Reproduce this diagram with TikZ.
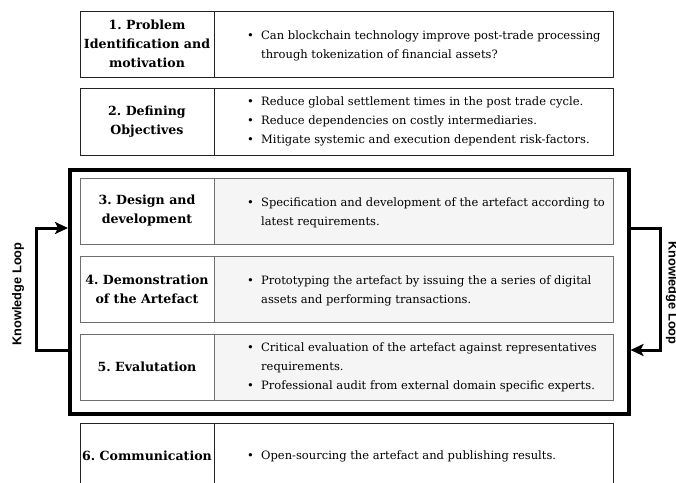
\documentclass[tikz,border=0pt]{standalone}
\usepackage{fontspec}
\setmainfont{DejaVu Serif}
\newfontfamily\loopfont{Liberation Sans}
\usetikzlibrary{arrows.meta}
\definecolor{cellgray}{HTML}{F5F5F5}
\definecolor{edgedark}{HTML}{222222}
\definecolor{edgegray}{HTML}{6E6E6E}
\newcommand{\bul}{\makebox[14pt][l]{\textbullet}}
\newcommand{\cont}{\hspace*{14pt}}
\frenchspacing
\begin{document}
\begin{tikzpicture}[x=1pt,y=-1pt,
  lcell/.style={draw=edgedark, line width=1pt, minimum width=134pt, minimum height=66pt,
    inner sep=0pt, outer sep=0pt, align=center, anchor=north west,
    font=\fontsize{12.6}{19}\selectfont\bfseries},
  rcell/.style={draw=edgedark, line width=1pt, minimum width=399pt, minimum height=66pt,
    inner sep=0pt, outer sep=0pt, anchor=north west},
  inner row/.style={draw=edgegray},
  shaded/.style={draw=edgegray, fill=cellgray},
  bullets/.style={anchor=west, align=left, inner sep=0pt,
    font=\fontsize{11.5}{19}\selectfont},
  loopline/.style={line width=3pt, -{Stealth[length=13pt,width=12pt,inset=3pt]}},
  looplabel/.style={font=\loopfont\bfseries\fontsize{12.8}{15}\selectfont}
]
\useasboundingbox (0,0) rectangle (676,482);
\clip (0,0) rectangle (676,482);

% 1. Problem identification
\node[rcell] (r1) at (214,11) {};
\node[lcell] (c1) at (80,11) {1. Problem\\Identification and\\motivation};
\node[bullets] (t1) at ([xshift=33pt,yshift=-2pt]r1.west)
  {\bul Can blockchain technology improve post-trade processing\\
   \cont through tokenization of financial assets?};

% 2. Objectives
\node[rcell, minimum height=67pt] (r2) at (214,88) {};
\node[lcell, minimum height=67pt] (c2) at (80,88) {2. Defining\\Objectives};
\node[bullets] (t2) at ([xshift=33pt]r2.west)
  {\bul Reduce global settlement times in the post trade cycle.\\
   \bul Reduce dependencies on costly intermediaries.\\
   \bul Mitigate systemic and execution dependent risk-factors.};

% iterative block
\node[draw=black, line width=3.5pt, minimum width=559pt, minimum height=244pt,
  anchor=north west, inner sep=0pt] (loopbox) at (68,168) {};

% 3. Design
\node[rcell, shaded] (r3) at (214,178) {};
\node[lcell, inner row] (c3) at (80,178) {3. Design and\\development};
\node[bullets] (t3) at ([xshift=33pt,yshift=-2pt]r3.west)
  {\bul Specification and development of the artefact according to\\
   \cont latest requirements.};

% 4. Demonstration
\node[rcell, shaded] (r4) at (214,256) {};
\node[lcell, inner row] (c4) at (80,256) {4. Demonstration\\of the Artefact};
\node[bullets] (t4) at ([xshift=33pt,yshift=-2pt]r4.west)
  {\bul Prototyping the artefact by issuing the a series of digital\\
   \cont assets and performing transactions.};

% 5. Evaluation
\node[rcell, shaded] (r5) at (214,334) {};
\node[lcell, inner row] (c5) at (80,334) {5. Evalutation};
\node[bullets] (t5) at ([xshift=33pt]r5.west)
  {\bul Critical evaluation of the artefact against representatives\\
   \cont requirements.\\
   \bul Professional audit from external domain specific experts.};

% 6. Communication
\node[rcell, minimum height=66pt] (r6) at (214,423) {};
\node[lcell, minimum height=66pt] (c6) at (80,423) {6. Communication};
\node[bullets] (t6) at ([xshift=33pt]r6.west)
  {\bul Open-sourcing the artefact and publishing results.};

% knowledge loops
\coordinate (la) at (36,228);
\coordinate (lb) at (36,350);
\coordinate (ra) at (660,228);
\coordinate (rb) at (660,350);
\draw[loopline] (loopbox.west |- lb) -- (lb) -- (la) -- (loopbox.west |- la);
\draw[loopline] (loopbox.east |- ra) -- (ra) -- (rb) -- (loopbox.east |- rb);

\node[looplabel, rotate=90] (kl) at (18,294) {Knowledge Loop};
\node[looplabel, rotate=-90] (kr) at (672,293) {Knowledge Loop};
\end{tikzpicture}
\end{document}
